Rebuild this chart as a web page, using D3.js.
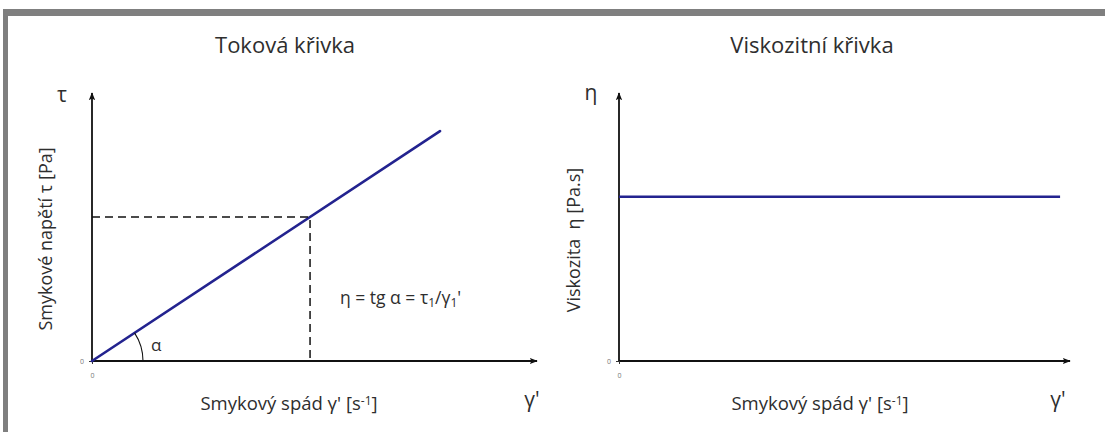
<!DOCTYPE html>
<html><head><meta charset="utf-8">
<script src="https://cdn.jsdelivr.net/npm/d3@7"></script>
<style>
html,body{margin:0;padding:0;background:#fff;}
text{font-family:"Open Sans",sans-serif;fill:#2e2e2e;}
</style></head>
<body><svg id="c" width="1105" height="432"></svg>
<script>
// ---- data ----
const titles = ["Toková křivka", "Viskozitní křivka"];
const flowGamma = [0, 7.82];      // shear rate (relative units)
const flowTau = [0, 8.58];        // shear stress
const point1Gamma = 4.9;          // γ1'
const point1Tau = 5.37;           // τ1
const viscGamma = [0, 9.78];
const viscEta = [6.13, 6.13];
const tickVals = [0];
const tickLabels = ["0"];

const svg = d3.select("#c");
// frame
svg.append("rect").attr("x",3).attr("y",9).attr("width",1102).attr("height",7).attr("fill","#7f7f7f");
svg.append("rect").attr("x",3).attr("y",9).attr("width",5).attr("height",423).attr("fill","#7f7f7f");

const defs = svg.append("defs");
defs.append("marker").attr("id","arr").attr("viewBox","0 0 10 10").attr("refX",9).attr("refY",5)
  .attr("markerWidth",8).attr("markerHeight",8).attr("markerUnits","userSpaceOnUse").attr("orient","auto")
  .append("path").attr("d","M0,1 L10,5 L0,9 L2,5 Z").attr("fill","#111");

const lineColor = "#23238f";

function panel(x0, x1, yBottom, yTop) {
  const x = d3.scaleLinear().domain([0,10]).range([x0, x1]);
  const y = d3.scaleLinear().domain([0,10]).range([yBottom, yTop]);
  const g = svg.append("g");
  g.append("line").attr("x1",x(0)).attr("y1",y(0)).attr("x2",x(10)).attr("y2",y(0))
    .attr("stroke","#111").attr("stroke-width",1.8).attr("marker-end","url(#arr)");
  g.append("line").attr("x1",x(0)).attr("y1",y(0)).attr("x2",x(0)).attr("y2",y(10))
    .attr("stroke","#111").attr("stroke-width",1.8).attr("marker-end","url(#arr)");
  const ax = g.append("g").attr("transform",`translate(0,${y(0)})`)
    .call(d3.axisBottom(x).tickValues(tickVals).tickFormat((d,i)=>tickLabels[i]).tickSize(3).tickPadding(9));
  const ay = g.append("g").attr("transform",`translate(${x(0)},0)`)
    .call(d3.axisLeft(y).tickValues(tickVals).tickFormat((d,i)=>tickLabels[i]).tickSize(3).tickPadding(5));
  [ax, ay].forEach(a => {
    a.select(".domain").remove();
    a.selectAll("line").attr("stroke","#333");
    a.selectAll("text").attr("fill","#777").style("fill","#777").style("font-size","7px").style("font-family","Open Sans");
  });
  return {x, y, g};
}

// ---- left panel ----
const L = panel(92, 537, 361, 93);
L.g.append("path").datum(flowGamma.map((d,i)=>[d, flowTau[i]]))
  .attr("d", d3.line().x(d=>L.x(d[0])).y(d=>L.y(d[1])))
  .attr("stroke", lineColor).attr("stroke-width",2.6).attr("fill","none").attr("stroke-linecap","round");
L.g.append("path").datum([[0,point1Tau],[point1Gamma,point1Tau],[point1Gamma,0]])
  .attr("d", d3.line().x(d=>L.x(d[0])).y(d=>L.y(d[1])))
  .attr("stroke","#111").attr("stroke-width",1.5).attr("fill","none").attr("stroke-dasharray","8,5");
{
  const dx = L.x(flowGamma[1]) - L.x(0), dy = L.y(0) - L.y(flowTau[1]);
  const ang = Math.atan2(dy, dx);
  L.g.append("path")
    .attr("transform",`translate(${L.x(0)},${L.y(0)})`)
    .attr("d", d3.arc().innerRadius(51).outerRadius(51).startAngle(Math.PI/2 - ang).endAngle(Math.PI/2)())
    .attr("stroke","#111").attr("stroke-width",1.1).attr("fill","none");
  L.g.append("text").attr("x",L.x(0)+59).attr("y",L.y(0)-10).text("α").style("font-size","17px");
}
{
  const t = L.g.append("text").attr("x",340).attr("y",304).style("font-size","17.5px");
  t.append("tspan").text("η = tg α = τ");
  t.append("tspan").text("1").attr("baseline-shift","-25%").style("font-size","12px");
  t.append("tspan").text("/γ");
  t.append("tspan").text("1").attr("baseline-shift","-25%").style("font-size","12px");
  t.append("tspan").text("'");
}

// ---- right panel ----
const R = panel(619, 1070, 361, 93);
R.g.append("path").datum(viscGamma.map((d,i)=>[d, viscEta[i]]))
  .attr("d", d3.line().x(d=>R.x(d[0])).y(d=>R.y(d[1])))
  .attr("stroke", lineColor).attr("stroke-width",2.6).attr("fill","none");

// titles
svg.append("text").attr("x",285).attr("y",53).attr("text-anchor","middle").style("font-size","22px").text(titles[0]);
svg.append("text").attr("x",812).attr("y",53).attr("text-anchor","middle").style("font-size","22px").text(titles[1]);

function xLabel(cx) {
  const t = svg.append("text").attr("x",cx).attr("y",410).attr("text-anchor","middle").style("font-size","18.5px");
  t.append("tspan").text("Smykový spád γ' [s");
  t.append("tspan").text("-1").attr("baseline-shift","40%").style("font-size","12px");
  t.append("tspan").text("]");
}
xLabel(289);
xLabel(820);

svg.append("text").attr("x",532).attr("y",407).attr("text-anchor","middle").style("font-size","21px").text("γ'");
svg.append("text").attr("x",1058).attr("y",407).attr("text-anchor","middle").style("font-size","21px").text("γ'");
svg.append("text").attr("x",62).attr("y",102).attr("text-anchor","middle").style("font-size","21px").text("τ");
svg.append("text").attr("x",591).attr("y",100).attr("text-anchor","middle").style("font-size","21px").text("η");

svg.append("text").attr("transform","translate(52,239) rotate(-90)").attr("text-anchor","middle")
  .style("font-size","18px").text("Smykové napětí τ [Pa]");
svg.append("text").attr("transform","translate(580,240) rotate(-90)").attr("text-anchor","middle")
  .style("font-size","18px").text("Viskozita\u00a0\u00a0η [Pa.s]");
</script></body></html>
